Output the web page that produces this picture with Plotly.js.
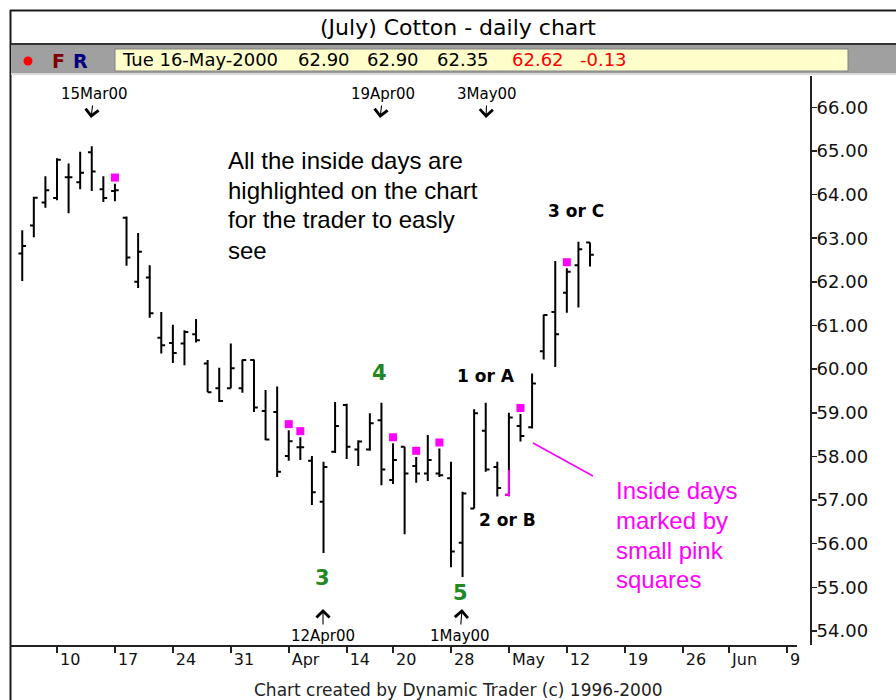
<!DOCTYPE html>
<html><head><meta charset="utf-8">
<script src="https://cdn.plot.ly/plotly-3.0.1.min.js"></script>
<style>html,body{margin:0;padding:0;background:#fff;}#chart{width:896px;height:700px;}</style>
</head><body><div id="chart"></div>
<script>
// ---------- data ----------
const dates = [
  '2000-03-07','2000-03-08','2000-03-09','2000-03-10','2000-03-13','2000-03-14','2000-03-15','2000-03-16','2000-03-17',
  '2000-03-20','2000-03-21','2000-03-22','2000-03-23','2000-03-24','2000-03-27','2000-03-28','2000-03-29','2000-03-30','2000-03-31',
  '2000-04-03','2000-04-04','2000-04-05','2000-04-06','2000-04-07','2000-04-10','2000-04-11','2000-04-12','2000-04-13','2000-04-14',
  '2000-04-17','2000-04-18','2000-04-19','2000-04-20','2000-04-24','2000-04-25','2000-04-26','2000-04-27','2000-04-28',
  '2000-05-01','2000-05-02','2000-05-03','2000-05-04','2000-05-05','2000-05-08','2000-05-09','2000-05-10','2000-05-11','2000-05-12',
  '2000-05-15','2000-05-16'
];
const openP = [62.65,63.29,63.82,63.92,64.40,64.28,64.97,64.12,64.08,
  63.47,62.00,62.10,60.72,60.60,60.59,60.80,60.13,59.56,59.56,
  59.56,60.21,59.04,59.02,58.01,58.21,57.90,56.96,58.11,59.18,
  58.16,58.16,58.83,57.46,58.22,57.78,57.61,57.61,57.50,
  56.02,56.81,58.59,57.76,57.12,58.70,58.67,60.41,61.31,61.75,
  62.38,62.90];
const highP = [63.18,63.95,64.42,64.83,64.71,64.98,65.11,64.42,64.25,
  63.50,63.12,62.38,61.31,61.02,60.89,61.15,60.21,60.03,60.59,
  60.22,60.22,59.52,59.60,58.60,58.44,58.01,57.88,59.25,59.21,
  58.37,58.99,59.23,58.30,58.22,57.99,58.49,58.18,57.88,
  57.19,59.08,59.23,57.88,59.00,58.97,59.90,61.25,62.48,62.31,
  62.92,62.90];
const lowP = [62.02,63.02,63.70,63.87,63.57,64.12,64.08,63.83,63.85,
  62.37,61.86,61.18,60.36,60.14,60.09,60.61,59.47,59.25,59.56,
  59.46,59.02,58.37,57.53,57.90,57.92,56.89,55.79,58.08,57.94,
  57.78,58.13,57.34,57.37,56.22,57.40,57.44,57.53,55.46,
  55.24,56.81,57.65,57.08,57.09,58.34,58.64,60.22,60.05,61.29,
  61.41,62.35];
const closeP = [62.82,63.93,64.10,64.80,64.40,64.50,64.53,63.92,64.10,
  62.56,62.69,61.28,60.55,60.37,60.85,60.66,59.47,59.27,60.02,
  60.21,59.12,58.39,57.65,58.35,58.21,57.18,57.76,58.70,58.22,
  58.34,58.76,57.70,57.92,57.61,57.61,57.92,57.57,55.82,
  57.15,58.99,57.70,57.28,58.89,58.47,59.67,61.24,60.80,62.23,
  62.75,62.62];
const insideDays = ['2000-03-17','2000-04-07','2000-04-10','2000-04-20','2000-04-25','2000-04-27','2000-05-08','2000-05-12'];
const tickDates  = ['2000-03-10','2000-03-17','2000-03-24','2000-03-31','2000-04-07','2000-04-14','2000-04-20','2000-04-28',
                    '2000-05-05','2000-05-12','2000-05-19','2000-05-26','2000-06-02','2000-06-09'];
const tickLabels = ['10','17','24','31','Apr','14','20','28','May','12','19','26','Jun','9'];
const priceTicks = [54,55,56,57,58,59,60,61,62,63,64,65,66];
const holidays = ['2000-04-21','2000-05-29'];
const calendarEnd = '2000-06-13';

// ---------- trading calendar for the category axis ----------
function tradingCalendar(start, end){
  const out = []; let d = new Date(start + 'T00:00:00Z'); const e = new Date(end + 'T00:00:00Z');
  while (d <= e){
    const s = d.toISOString().slice(0,10), wd = d.getUTCDay();
    if (wd !== 0 && wd !== 6 && holidays.indexOf(s) < 0) out.push(s);
    d = new Date(d.getTime() + 86400000);
  }
  return out;
}
const calendar = tradingCalendar(dates[0], calendarEnd);
const tickVals = tickDates.map(d => calendar.indexOf(d));

// ---------- pixel -> paper helpers (plot area 10..810 x 76..645) ----------
const PL = 10, PR = 810, PT = 76, PB = 645;
const PX = x => (x - PL) / (PR - PL);
const PY = y => (PB - y) / (PB - PT);
const SANS = 'DejaVu Sans';
function txt(text, px, py, o){
  return Object.assign({text, xref:'paper', yref:'paper', x:PX(px), y:PY(py), showarrow:false,
    xanchor:'center', yanchor:'middle', font:{family:SANS, size:15, color:'#000'}}, o || {});
}
function arrowLabel(text, tipX, tipY, ax, ay){
  return {text, xref:'paper', yref:'paper', x:PX(tipX), y:PY(tipY), showarrow:true, ax, ay,
    arrowhead:4, arrowsize:2.3, arrowwidth:1.1, arrowcolor:'#000', standoff:0, startstandoff:1,
    font:{family:SANS, size:15, color:'#000'}};
}

const n = dates.length;
const fmt = v => v.toFixed(2);
const lastIdx = n - 1;
const change = closeP[lastIdx] - closeP[lastIdx - 1];
const dObj = new Date(dates[lastIdx] + 'T00:00:00Z');
const DOW = ['Sun','Mon','Tue','Wed','Thu','Fri','Sat'], MON = ['Jan','Feb','Mar','Apr','May','Jun','Jul','Aug','Sep','Oct','Nov','Dec'];
const headerDate = DOW[dObj.getUTCDay()] + ' ' + dObj.getUTCDate() + '-' + MON[dObj.getUTCMonth()] + '-' + dObj.getUTCFullYear();

const MARK_OFFSET = 0.14;
const insideIdx = insideDays.map(d => dates.indexOf(d));

const traces = [
  {type:'ohlc', x:dates, open:openP, high:highP, low:lowP, close:closeP, tickwidth:0.33,
   increasing:{line:{color:'#000', width:2}}, decreasing:{line:{color:'#000', width:2}},
   hoverinfo:'skip', showlegend:false},
  {type:'scatter', mode:'markers', x:insideDays, y:insideIdx.map(i => highP[i] + MARK_OFFSET),
   marker:{symbol:'square', size:8, color:'#ff00ff', line:{width:0}}, hoverinfo:'skip', showlegend:false, cliponaxis:false}
];

const may5 = dates.indexOf('2000-05-05');
const shapes = [
  // window frame
  {type:'line', xref:'paper', yref:'paper', x0:PX(10), x1:PX(896), y0:PY(10.5), y1:PY(10.5), line:{color:'#1a1a1a', width:2}},
  {type:'line', xref:'paper', yref:'paper', x0:PX(10.5), x1:PX(10.5), y0:PY(10), y1:PY(700), line:{color:'#1a1a1a', width:2}},
  // status bar
  {type:'rect', xref:'paper', yref:'paper', x0:PX(11), x1:PX(896), y0:PY(73), y1:PY(44), fillcolor:'#a0a0a0', line:{width:0}},
  {type:'line', xref:'paper', yref:'paper', x0:PX(11), x1:PX(896), y0:PY(44), y1:PY(44), line:{color:'#333', width:2}},
  {type:'line', xref:'paper', yref:'paper', x0:PX(11), x1:PX(896), y0:PY(74), y1:PY(74), line:{color:'#d8d8d8', width:2}},
  {type:'rect', xref:'paper', yref:'paper', x0:PX(115), x1:PX(848), y0:PY(71), y1:PY(49), fillcolor:'#ffffcc', line:{color:'#808080', width:1}},
  {type:'circle', xref:'paper', yref:'paper', x0:PX(23.5), x1:PX(32.5), y0:PY(65.5), y1:PY(56.5), fillcolor:'#ff0000', line:{width:0}},
  // x axis base line
  {type:'line', xref:'paper', yref:'paper', x0:PX(10), x1:PX(797), y0:PY(646), y1:PY(646), line:{color:'#222', width:2}},
  // pink pointer line
  {type:'line', xref:'paper', yref:'paper', x0:PX(533), x1:PX(593), y0:PY(443), y1:PY(476), line:{color:'#ff00ff', width:1.5}},
  // pink overlay on 5 May bar
  {type:'line', xref:'x', yref:'y', x0:may5, x1:may5, y0:lowP[may5], y1:57.69, line:{color:'#ff00ff', width:2}},
  {type:'line', xref:'x', yref:'y', x0:may5 - 0.33, x1:may5, y0:openP[may5], y1:openP[may5], line:{color:'#ff00ff', width:2}}
];

const G = '#228822';
const annotations = [
  txt('(July) Cotton - daily chart', 458, 27, {font:{family:SANS, size:22, color:'#000'}}),
  txt('F', 58, 61, {font:{family:SANS, size:19, color:'#800000', weight:'bold'}}),
  txt('R', 80, 61, {font:{family:SANS, size:19, color:'#000080', weight:'bold'}}),
  txt(headerDate, 120, 60, {xanchor:'left', font:{family:SANS, size:18, color:'#000'}}),
  txt(fmt(openP[lastIdx]), 296, 60, {xanchor:'left', font:{family:SANS, size:18, color:'#000'}}),
  txt(fmt(highP[lastIdx]), 365, 60, {xanchor:'left', font:{family:SANS, size:18, color:'#000'}}),
  txt(fmt(lowP[lastIdx]), 435, 60, {xanchor:'left', font:{family:SANS, size:18, color:'#000'}}),
  txt(fmt(closeP[lastIdx]), 510, 60, {xanchor:'left', font:{family:SANS, size:18, color:'#ff0000'}}),
  txt(fmt(change), 578, 60, {xanchor:'left', font:{family:SANS, size:18, color:'#ff0000'}}),

  arrowLabel('15Mar00', 91, 118, 3, -24),
  arrowLabel('19Apr00', 380, 118, 3, -24),
  arrowLabel('3May00', 486, 118, 1, -24),
  arrowLabel('12Apr00', 323, 609, 0, 27),
  arrowLabel('1May00', 462, 609, -2, 27),

  txt('3', 322, 578, {font:{family:SANS, size:21, color:G, weight:'bold'}}),
  txt('4', 379, 373, {font:{family:SANS, size:21, color:G, weight:'bold'}}),
  txt('5', 460, 593, {font:{family:SANS, size:21, color:G, weight:'bold'}}),
  txt('1 or A', 486, 376, {font:{family:SANS, size:17, color:'#000', weight:'bold'}}),
  txt('2 or B', 507, 520, {font:{family:SANS, size:17, color:'#000', weight:'bold'}}),
  txt('3 or C', 576, 211, {font:{family:SANS, size:17, color:'#000', weight:'bold'}}),

  txt('All the inside days are', 226, 160, {xanchor:'left', font:{family:'Liberation Sans', size:24, color:'#000'}}),
  txt('highlighted on the chart', 226, 190, {xanchor:'left', font:{family:'Liberation Sans', size:24, color:'#000'}}),
  txt('for the trader to easly', 226, 220, {xanchor:'left', font:{family:'Liberation Sans', size:24, color:'#000'}}),
  txt('see', 226, 250, {xanchor:'left', font:{family:'Liberation Sans', size:24, color:'#000'}}),

  txt('Inside days', 614, 490, {xanchor:'left', font:{family:'Liberation Sans', size:24, color:'#ff00ff'}}),
  txt('marked by', 614, 520, {xanchor:'left', font:{family:'Liberation Sans', size:24, color:'#ff00ff'}}),
  txt('small pink', 614, 550, {xanchor:'left', font:{family:'Liberation Sans', size:24, color:'#ff00ff'}}),
  txt('squares', 614, 579, {xanchor:'left', font:{family:'Liberation Sans', size:24, color:'#ff00ff'}}),

  txt('Chart created by Dynamic Trader (c) 1996-2000', 458, 690, {font:{family:SANS, size:17, color:'#222'}})
];

const layout = {
  width:896, height:700,
  margin:{l:PL, r:896 - PR, t:PT, b:700 - PB, pad:0},
  paper_bgcolor:'#fff', plot_bgcolor:'#fff',
  showlegend:false,
  xaxis:{type:'category', categoryorder:'array', categoryarray:calendar,
    range:[-1.056, 67.985], rangeslider:{visible:false},
    tickmode:'array', tickvals:tickVals, ticktext:tickLabels,
    ticks:'outside', ticklen:7, tickwidth:2, tickcolor:'#222',
    ticklabelposition:'outside right', ticklabelshift:2,
    tickfont:{family:SANS, size:16, color:'#111'},
    showline:false, showgrid:false, zeroline:false, fixedrange:true},
  yaxis:{side:'right', range:[53.68, 66.717], tickmode:'array', tickvals:priceTicks,
    tickformat:'.2f', ticks:'outside', ticklen:5, tickwidth:1.5, tickcolor:'#222',
    ticklabelstandoff:-4,
    showline:true, linecolor:'#222', linewidth:2, mirror:false,
    tickfont:{family:SANS, size:18, color:'#111'},
    showgrid:false, zeroline:false, fixedrange:true},
  shapes, annotations
};

Plotly.newPlot('chart', traces, layout, {staticPlot:true, displayModeBar:false});
</script>
</body></html>
